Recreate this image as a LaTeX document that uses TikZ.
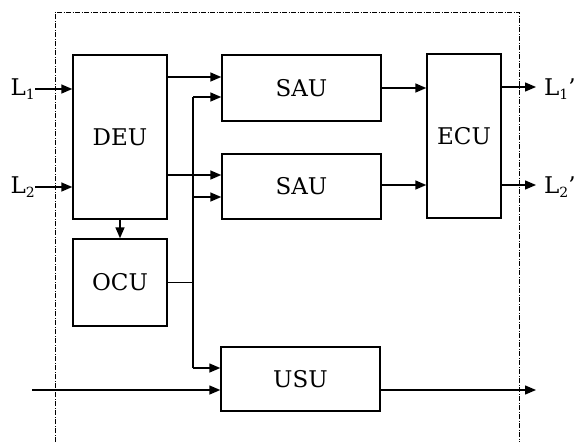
\documentclass[tikz,border=0pt]{standalone}
\usepackage{fontspec}
\setmainfont{DejaVu Serif}
\usetikzlibrary{arrows.meta}
\newcommand{\lsub}[1]{\raisebox{-0.35ex}{\fontsize{14}{14}\selectfont #1}}
\begin{document}
\begin{tikzpicture}[x=1pt,y=-1pt,
  box/.style={draw, line width=1.4pt, inner sep=0pt, font=\fontsize{23}{28}\selectfont},
  lbl/.style={inner sep=0pt, font=\fontsize{23}{28}\selectfont},
  arr/.style={line width=1.4pt, -{Triangle[length=11pt,width=9pt]}},
  ln/.style={line width=1.4pt},
  frame/.style={line width=1pt, dash pattern=on 5pt off 1.5pt on 1pt off 1.5pt}]
\useasboundingbox (0,0) rectangle (578,442);
% frame
\draw[frame] (55,442) -- (55,12) -- (519,12) -- (519,442);
% boxes
\node[box, minimum width=94pt, minimum height=164pt] (deu) at (120,137) {DEU};
\node[box, minimum width=159pt, minimum height=66pt] (sau1) at (301.5,88) {SAU};
\node[box, minimum width=159pt, minimum height=65pt] (sau2) at (301.5,186.5) {SAU};
\node[box, minimum width=74pt, minimum height=164pt] (ecu) at (464,136) {ECU};
\node[box, minimum width=94pt, minimum height=87pt] (ocu) at (120,282.5) {OCU};
\node[box, minimum width=159pt, minimum height=64pt] (usu) at (300.5,379) {USU};
% labels
\node[lbl, anchor=east] (L1) at (35,89) {L\lsub{1}};
\node[lbl, anchor=east] (L2) at (35,187) {L\lsub{2}};
\node[lbl, anchor=west] (L1o) at (544,89) {L\lsub{1}'};
\node[lbl, anchor=west] (L2o) at (544,187) {L\lsub{2}'};
% coordinates
\coordinate (bt) at (193,97);
\coordinate (b2) at (193,197);
\coordinate (bb) at (193,368);
\coordinate (o1) at (536,87);
\coordinate (o2) at (536,185);
\coordinate (in3) at (32,390);
\coordinate (out3) at (536,390);
% inputs
\draw[arr] (L1.east) -- (L1.east -| deu.west);
\draw[arr] (L2.east) -- (L2.east -| deu.west);
% DEU to SAUs
\draw[arr] (deu.east |- 0,77) -- (sau1.west |- 0,77);
\draw[arr] (deu.east |- 0,175) -- (sau2.west |- 0,175);
% DEU to OCU
\draw[arr] (deu.south) -- (ocu.north);
% bus
\draw[ln] (ocu.east) -- (ocu.east -| bt);
\draw[ln] (bb) -- (bt);
\draw[arr] (bt) -- (bt -| sau1.west);
\draw[arr] (b2) -- (b2 -| sau2.west);
\draw[arr] (bb) -- (bb -| usu.west);
% SAU to ECU
\draw[arr] (sau1.east) -- (sau1.east -| ecu.west);
\draw[arr] (sau2.east |- 0,185) -- (ecu.west |- 0,185);
% ECU outputs
\draw[arr] (ecu.east |- o1) -- (o1);
\draw[arr] (ecu.east |- o2) -- (o2);
% USU line
\draw[arr] (in3) -- (in3 -| usu.west);
\draw[arr] (usu.east |- out3) -- (out3);
\end{tikzpicture}
\end{document}
